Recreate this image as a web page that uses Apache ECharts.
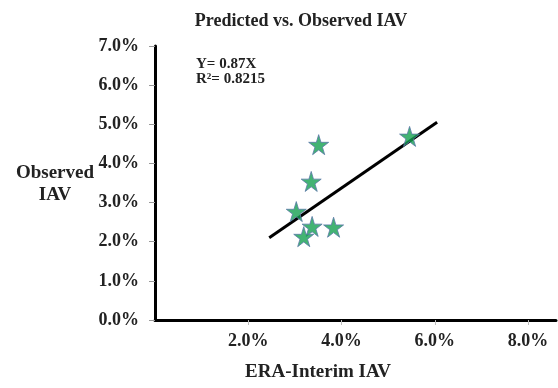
<!DOCTYPE html>
<html>
<head>
<meta charset="utf-8">
<script src="https://cdn.jsdelivr.net/npm/echarts@6/dist/echarts.min.js"></script>
<style>
  html, body { margin: 0; padding: 0; background: #fff; }
  #chart { width: 558px; height: 388px; }
</style>
</head>
<body>
<div id="chart"></div>
<script>
// ERA-Interim IAV (%) vs observed IAV (%)
const eraIav = [3.51, 3.35, 3.03, 3.37, 3.19, 3.83, 5.46]
const observedIav = [4.48, 3.54, 2.77, 2.39, 2.13, 2.37, 4.69]
// fitted line ends
const fitX = [2.45, 6.05]
const fitY = [2.1, 5.05]
const xTicks = [2, 4, 6, 8]

const serif = '"Liberation Serif", "DejaVu Serif", serif'
const star = 'path://M50,0 L61,35 L98,35 L68,57 L79,91 L50,70 L21,91 L32,57 L2,35 L39,35 Z'

const chart = echarts.init(document.getElementById('chart'))

const option = {
  animation: false,
  title: {
    text: 'Predicted vs. Observed IAV',
    left: 296,
    textAlign: 'center',
    top: 7,
    textStyle: {
      fontFamily: serif,
      fontWeight: 'bold',
      fontSize: 18,
      color: '#222'
    }
  },
  grid: {
    left: 155,
    right: 2,
    top: 46,
    bottom: 68
  },
  xAxis: {
    type: 'value',
    min: 0,
    max: 8.6,
    interval: 2,
    axisLine: { lineStyle: { color: '#000', width: 3 } },
    axisTick: {
      show: true,
      customValues: xTicks,
      length: 5,
      lineStyle: { color: '#bbb' }
    },
    axisLabel: {
      customValues: xTicks,
      formatter: v => v.toFixed(1) + '%',
      margin: 12,
      fontFamily: serif,
      fontWeight: 'bold',
      fontSize: 18,
      color: '#222'
    },
    splitLine: { show: false }
  },
  yAxis: {
    type: 'value',
    min: 0,
    max: 7,
    interval: 1,
    axisLine: { show: true, lineStyle: { color: '#000', width: 3 } },
    axisTick: { show: true, length: 6, lineStyle: { color: '#999' } },
    axisLabel: {
      formatter: v => v.toFixed(1) + '%',
      margin: 16,
      fontFamily: serif,
      fontWeight: 'bold',
      fontSize: 18,
      color: '#222'
    },
    splitLine: { show: false }
  },
  graphic: [
    {
      type: 'text',
      style: {
        x: 318,
        y: 372,
        text: 'ERA-Interim IAV',
        textAlign: 'center',
        textVerticalAlign: 'middle',
        font: 'bold 19px ' + serif,
        fill: '#222'
      }
    },
    {
      type: 'text',
      style: {
        x: 55,
        y: 184,
        text: 'Observed\nIAV',
        textAlign: 'center',
        textVerticalAlign: 'middle',
        lineHeight: 22,
        font: 'bold 19px ' + serif,
        fill: '#222'
      }
    },
    {
      type: 'text',
      style: {
        x: 196,
        y: 72,
        text: 'Y= 0.87X\nR²= 0.8215',
        textVerticalAlign: 'middle',
        lineHeight: 15,
        font: 'bold 15px ' + serif,
        fill: '#222'
      }
    }
  ],
  series: [
    {
      type: 'line',
      data: fitX.map((x, i) => [x, fitY[i]]),
      showSymbol: false,
      lineStyle: { color: '#000', width: 3 },
      z: 2
    },
    {
      type: 'scatter',
      data: eraIav.map((x, i) => [x, observedIav[i]]),
      symbol: star,
      symbolSize: 20,
      itemStyle: {
        color: '#14a050',
        borderColor: '#5a78a8',
        borderWidth: 1
      },
      z: 3
    }
  ]
}

chart.setOption(option)
</script>
</body>
</html>
